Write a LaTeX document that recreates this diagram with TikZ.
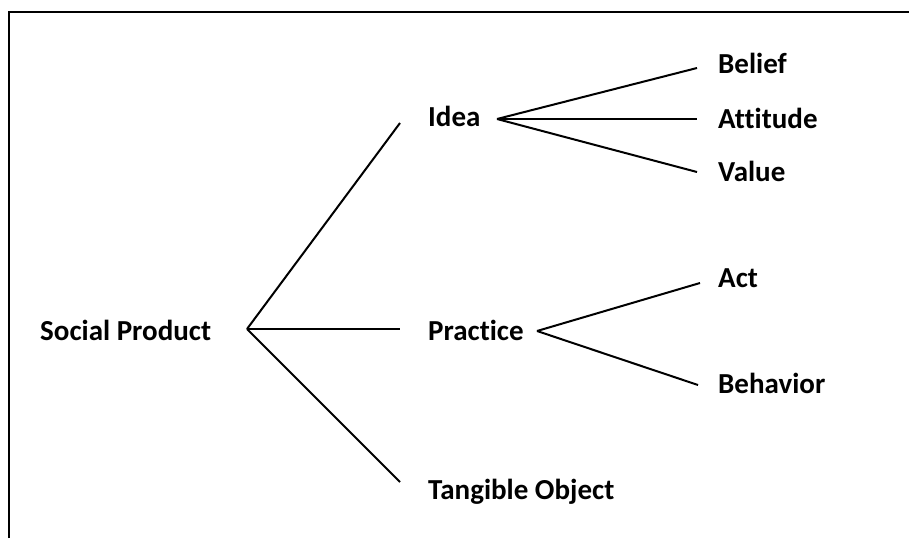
\documentclass[tikz,border=0pt]{standalone}
\usepackage{fontspec}
\setmainfont[Ligatures=NoCommon]{Carlito}
\usetikzlibrary{positioning}

\tikzset{
  lbl/.style={font=\bfseries\fontsize{29}{34}\selectfont, inner sep=0pt, anchor=base west},
  branch/.style={line width=2pt, black},
}

\begin{document}
\begin{tikzpicture}[x=1pt, y=-1pt]
    \useasboundingbox (0,0) rectangle (909,538);

    % frame (top and left edge only)
    \draw[line width=2pt] (9,538) -- (9,12) -- (909,12);

    % root
    \node[lbl] (social) at (40,340) {Social Product};

    % first level
    \node[lbl] (idea) at (428,126) {Idea};
    \node[lbl] (practice) at (428,340) {Practice};
    \node[lbl] (tangible) at (428,499) {Tangible Object};

    % second level
    \node[lbl] (belief) at (718,73) {Belief};
    \node[lbl] (attitude) at (718,128) {Attitude};
    \node[lbl] (value) at (718,181) {Value};
    \node[lbl] (act) at (718,287) {Act};
    \node[lbl] (behavior) at (718,393) {Behavior};

    % branch points and line ends
    \coordinate (social-out) at (247,329);
    \coordinate (idea-in) at (400,123);
    \coordinate (practice-in) at (400,329);
    \coordinate (tangible-in) at (400,482);
    \coordinate (idea-out) at (497,119);
    \coordinate (practice-out) at (537,331);
    \coordinate (belief-in) at (697,68);
    \coordinate (attitude-in) at (697,119);
    \coordinate (value-in) at (697,172);
    \coordinate (act-in) at (700,283);
    \coordinate (behavior-in) at (698,385);

    \draw[branch] (social-out) -- (idea-in);
    \draw[branch] (social-out) -- (practice-in);
    \draw[branch] (social-out) -- (tangible-in);

    \draw[branch] (idea-out) -- (belief-in);
    \draw[branch] (idea-out) -- (attitude-in);
    \draw[branch] (idea-out) -- (value-in);

    \draw[branch] (practice-out) -- (act-in);
    \draw[branch] (practice-out) -- (behavior-in);
\end{tikzpicture}
\end{document}
